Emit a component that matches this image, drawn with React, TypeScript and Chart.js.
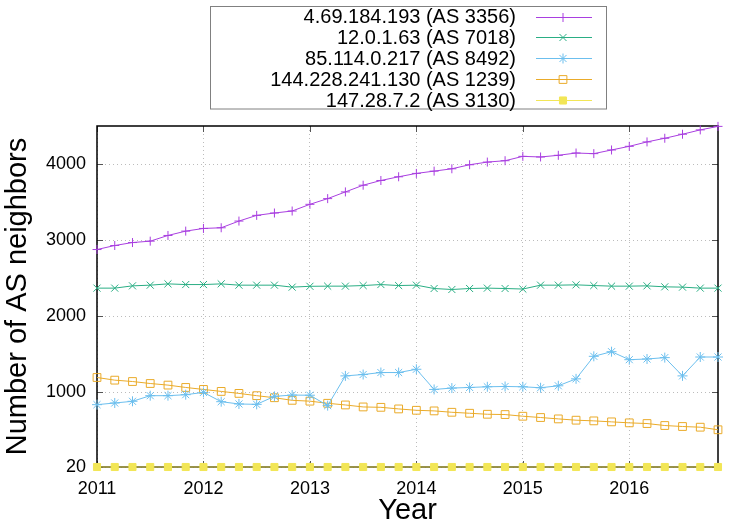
import React, { useEffect, useRef } from 'react';
import { Chart, registerables } from 'chart.js';
import { drawPoint } from 'chart.js/helpers';

Chart.register(...registerables);

const FONT = '"Liberation Sans", Arial, Helvetica, sans-serif';

const dates = [
  '2011-01', '2011-03', '2011-05', '2011-07', '2011-09', '2011-11',
  '2012-01', '2012-03', '2012-05', '2012-07', '2012-09', '2012-11',
  '2013-01', '2013-03', '2013-05', '2013-07', '2013-09', '2013-11',
  '2014-01', '2014-03', '2014-05', '2014-07', '2014-09', '2014-11',
  '2015-01', '2015-03', '2015-05', '2015-07', '2015-09', '2015-11',
  '2016-01', '2016-03', '2016-05', '2016-07', '2016-09', '2016-11',
];

const seriesLabels = [
  '4.69.184.193 (AS 3356)',
  '12.0.1.63 (AS 7018)',
  '85.114.0.217 (AS 8492)',
  '144.228.241.130 (AS 1239)',
  '147.28.7.2 (AS 3130)',
];

const as3356 = [2877, 2930, 2969, 2987, 3062, 3119, 3154, 3163, 3251, 3326, 3357, 3383, 3471, 3546, 3634, 3722, 3784, 3833, 3877, 3907, 3938, 3991, 4026, 4044, 4101, 4093, 4115, 4145, 4137, 4185, 4233, 4291, 4339, 4392, 4449, 4495];
const as7018 = [2370, 2370, 2400, 2409, 2426, 2417, 2417, 2426, 2409, 2409, 2409, 2383, 2394, 2396, 2396, 2404, 2417, 2404, 2409, 2365, 2352, 2365, 2370, 2365, 2358, 2409, 2409, 2413, 2404, 2396, 2396, 2400, 2387, 2383, 2370, 2370];
const as8492 = [839, 861, 883, 957, 957, 970, 1000, 878, 848, 843, 948, 965, 963, 826, 1217, 1235, 1261, 1261, 1304, 1039, 1057, 1065, 1074, 1078, 1074, 1061, 1087, 1178, 1474, 1535, 1430, 1439, 1457, 1217, 1465, 1465];
const as1239 = [1196, 1161, 1143, 1117, 1096, 1065, 1039, 1013, 987, 957, 930, 896, 885, 857, 835, 809, 804, 783, 765, 757, 739, 726, 713, 709, 687, 670, 652, 635, 626, 613, 600, 591, 565, 552, 543, 509];
const as3130 = [20, 20, 20, 20, 20, 20, 20, 20, 20, 20, 20, 20, 20, 20, 20, 20, 20, 20, 20, 20, 20, 20, 20, 20, 20, 20, 20, 20, 20, 20, 20, 20, 20, 20, 20, 20];

const yearTicks = [2011, 2012, 2013, 2014, 2015, 2016];
const yTicks = [20, 1000, 2000, 3000, 4000];

const colors = ['#a93fe0', '#2aae84', '#6cbfee', '#eaab2a', '#f2e656'];
const pointStyles = ['cross', 'crossRot', 'star', 'rect', 'rect'];
const pointRadii = [4.5, 5, 5, 5.5, 5];
const pointFills = ['#a93fe0', '#2aae84', '#6cbfee', 'rgba(0,0,0,0)', '#f2e656'];

const toYear = (d: string) => {
  const [y, m] = d.split('-').map(Number);
  return y + (m - 1) / 12;
};

const xs = dates.map(toYear);
const allSeries = [as3356, as7018, as8492, as1239, as3130];

const framePlugin = {
  id: 'gnuplotFrame',
  beforeDatasetsDraw(chart: any) {
    const { ctx, chartArea } = chart;
    const { left, right, top, bottom } = chartArea;
    const xScale = chart.scales.x;
    const yScale = chart.scales.y;
    ctx.save();
    ctx.strokeStyle = '#555';
    ctx.lineWidth = 1;
    ctx.beginPath();
    yearTicks.forEach((v) => {
      const px = Math.round(xScale.getPixelForValue(v)) + 0.5;
      ctx.moveTo(px, bottom);
      ctx.lineTo(px, bottom - 6);
      ctx.moveTo(px, top);
      ctx.lineTo(px, top + 6);
    });
    yTicks.forEach((v) => {
      const py = Math.round(yScale.getPixelForValue(v)) + 0.5;
      ctx.moveTo(left, py);
      ctx.lineTo(left + 6, py);
      ctx.moveTo(right, py);
      ctx.lineTo(right - 6, py);
    });
    ctx.stroke();
    ctx.strokeStyle = '#000';
    ctx.lineWidth = 1.5;
    ctx.strokeRect(left, top, right - left, bottom - top);
    ctx.restore();
  },
  afterDraw(chart: any) {
    const { ctx, chartArea } = chart;
    ctx.save();
    ctx.fillStyle = '#000';
    ctx.font = `29px ${FONT}`;
    ctx.textAlign = 'center';
    ctx.textBaseline = 'middle';
    ctx.fillText('Year', (chartArea.left + chartArea.right) / 2, 511);
    ctx.save();
    ctx.translate(18, (chartArea.top + chartArea.bottom) / 2);
    ctx.rotate(-Math.PI / 2);
    ctx.fillText('Number of AS neighbors', 0, 0);
    ctx.restore();

    ctx.strokeStyle = '#808080';
    ctx.lineWidth = 1;
    ctx.strokeRect(210.5, 6.5, 396, 102.5);
    ctx.font = `20px ${FONT}`;
    ctx.textAlign = 'right';
    ctx.textBaseline = 'middle';
    chart.data.datasets.forEach((ds: any, i: number) => {
      const y = 16.5 + i * 20.9;
      ctx.fillStyle = '#000';
      ctx.fillText(ds.label, 516, y + 1);
      ctx.strokeStyle = ds.borderColor;
      ctx.lineWidth = 1;
      ctx.beginPath();
      ctx.moveTo(536, Math.round(y) + 0.5);
      ctx.lineTo(592, Math.round(y) + 0.5);
      ctx.stroke();
      ctx.fillStyle = ds.pointBackgroundColor;
      ctx.strokeStyle = ds.borderColor;
      drawPoint(ctx, { pointStyle: ds.pointStyle, radius: ds.pointRadius, borderWidth: 1, rotation: 0 }, 563, Math.round(y) + 0.5);
    });
    ctx.restore();
  },
};

export default function App() {
  const canvasRef = useRef<HTMLCanvasElement | null>(null);

  useEffect(() => {
    const canvas = canvasRef.current;
    if (!canvas) return;
    const datasets = allSeries.map((vals, i) => ({
      label: seriesLabels[i],
      data: vals.map((v, j) => ({ x: xs[j], y: v })),
      borderColor: colors[i],
      backgroundColor: pointFills[i],
      pointBackgroundColor: pointFills[i],
      pointBorderColor: colors[i],
      pointStyle: pointStyles[i],
      pointRadius: pointRadii[i],
      pointBorderWidth: 1,
      borderWidth: 1,
      tension: 0,
      clip: false,
    }));
    const chart = new Chart(canvas, {
      type: 'line',
      data: { datasets } as any,
      options: {
        responsive: false,
        animation: false,
        layout: { padding: { top: 126, right: 32, left: 0, bottom: 0 } },
        plugins: { legend: { display: false }, tooltip: { enabled: false } },
        scales: {
          x: {
            type: 'linear',
            min: toYear(dates[0]),
            max: toYear(dates[dates.length - 1]),
            afterBuildTicks: (scale: any) => {
              scale.ticks = yearTicks.map((v) => ({ value: v }));
            },
            afterFit: (scale: any) => {
              scale.height = 58;
            },
            ticks: {
              color: '#000',
              font: { family: FONT, size: 18 },
              padding: 11,
              maxRotation: 0,
              autoSkip: false,
              callback: (v: any) => String(v),
            },
            grid: { color: '#bcbcbc', drawTicks: false, lineWidth: 1 },
            border: { display: false, dash: [1, 3] },
          },
          y: {
            type: 'linear',
            min: 20,
            max: 4500,
            afterBuildTicks: (scale: any) => {
              scale.ticks = yTicks.map((v) => ({ value: v }));
            },
            afterFit: (scale: any) => {
              scale.width = 97;
            },
            ticks: {
              color: '#000',
              font: { family: FONT, size: 18 },
              padding: 11,
              autoSkip: false,
              callback: (v: any) => String(v),
            },
            grid: { color: '#bcbcbc', drawTicks: false, lineWidth: 1 },
            border: { display: false, dash: [1, 3] },
          },
        },
      } as any,
      plugins: [framePlugin],
    });
    return () => chart.destroy();
  }, []);

  return (
    <div style={{ position: 'fixed', left: 0, top: 0, width: 750, height: 525, background: '#fff' }}>
      <canvas ref={canvasRef} width={750} height={525} style={{ width: 750, height: 525, display: 'block' }} />
    </div>
  );
}
